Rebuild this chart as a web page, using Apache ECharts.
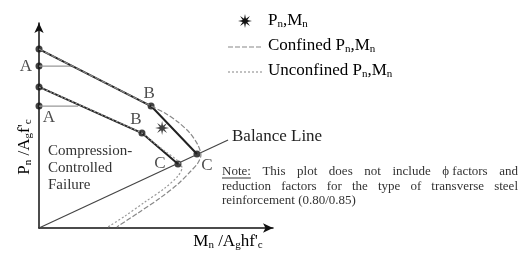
<!DOCTYPE html>
<html>
<head>
<meta charset="utf-8">
<script src="https://cdn.jsdelivr.net/npm/echarts@6/dist/echarts.min.js"></script>
<style>
  html, body { margin: 0; padding: 0; background: #fff; }
  #chart { width: 519px; height: 255px; }
</style>
</head>
<body>
<div id="chart"></div>
<script>
// P-M interaction sketch, normalised units: x = Mn/Ag h f'c, y = Pn/Ag f'c
const pointM = [0, 0, 0, 0, 0.479, 0.440, 0.675, 0.594];
const pointP = [0.873, 0.790, 0.688, 0.595, 0.595, 0.463, 0.361, 0.312];
const pointTag = ['', 'A', '', 'A', 'B', 'B', 'C', 'C'];

const upperM = [0, 0.479, 0.675];
const upperP = [0.873, 0.595, 0.361];
const lowerM = [0, 0.440, 0.594];
const lowerP = [0.688, 0.463, 0.312];

const capUpperM = [0, 0.141];
const capUpperP = [0.790, 0.790];
const capLowerM = [0, 0.167];
const capLowerP = [0.595, 0.595];

const balanceM = [0, 0.808];
const balanceP = [0, 0.429];

const starM = [0.526];
const starP = [0.488];

const confinedM = [0, 0.479, 0.538, 0.594, 0.645, 0.679, 0.692, 0.679, 0.645, 0.594, 0.517, 0.423, 0.333];
const confinedP = [0.873, 0.595, 0.561, 0.517, 0.463, 0.405, 0.356, 0.317, 0.273, 0.215, 0.146, 0.073, 0.005];
const unconfinedM = [0, 0.440, 0.483, 0.543, 0.594, 0.611, 0.594, 0.538, 0.453, 0.368, 0.295];
const unconfinedP = [0.688, 0.463, 0.424, 0.371, 0.327, 0.293, 0.254, 0.195, 0.127, 0.059, 0.005];

const serif = '"Liberation Serif", "DejaVu Serif", serif';
const pts = (m, p) => m.map((v, i) => [v, p[i]]);

// 8-point asterisk outline
function starPoints(r) {
  const out = [];
  for (let i = 0; i < 16; i++) {
    const a = i * Math.PI / 8 - Math.PI / 2;
    const rr = i % 2 ? r * 0.35 : r;
    out.push([rr * Math.cos(a), rr * Math.sin(a)]);
  }
  return out;
}
const starPath = 'path://' + starPoints(10).map((p, i) => (i ? 'L' : 'M') + p[0].toFixed(2) + ' ' + p[1].toFixed(2)).join('') + 'Z';

// label offsets for A/B/C tags (index matches point arrays)
const tagOffset = [[0, 0], [-13, 0], [0, 0], [10, 12], [-2, -12], [-6, -14], [10, 12], [-18, -1]];

const sub = { fontSize: 11, fontFamily: serif, color: '#222', verticalAlign: 'bottom' };
const big = { fontSize: 17, fontFamily: serif, color: '#222' };

const noteFont = '13px ' + serif;
const ctx = document.createElement('canvas').getContext('2d');
function justify(words, x0, x1, y) {
  ctx.font = noteFont;
  const w = words.map(s => ctx.measureText(s).width);
  const gap = (x1 - x0 - w.reduce((a, b) => a + b, 0)) / (words.length - 1);
  let x = x0;
  return words.map((s, i) => {
    const el = { type: 'text', x: x, y: y, style: { text: s, font: noteFont, fill: '#333', verticalAlign: 'middle' } };
    x += w[i] + gap;
    return el;
  });
}
ctx.font = noteFont;
const noteW = ctx.measureText('Note:').width;

const chart = echarts.init(document.getElementById('chart'));
chart.setOption({
  animation: false,
  grid: { left: 39, top: 23, width: 234, height: 205 },
  xAxis: {
    type: 'value', min: 0, max: 1,
    axisLine: { lineStyle: { color: '#111', width: 1.5 }, symbol: ['none', 'arrow'], symbolSize: [7, 10] },
    axisTick: { show: false }, axisLabel: { show: false }, splitLine: { show: false }
  },
  yAxis: {
    type: 'value', min: 0, max: 1,
    axisLine: { lineStyle: { color: '#111', width: 1.5 }, symbol: ['none', 'arrow'], symbolSize: [7, 10] },
    axisTick: { show: false }, axisLabel: { show: false }, splitLine: { show: false }
  },
  series: [
    { type: 'line', data: pts(capUpperM, capUpperP), symbol: 'none', lineStyle: { color: '#999', width: 1.2 } },
    { type: 'line', data: pts(capLowerM, capLowerP), symbol: 'none', lineStyle: { color: '#999', width: 1.2 } },
    { type: 'line', data: pts(balanceM, balanceP), symbol: 'none', lineStyle: { color: '#444', width: 1.2 } },
    { type: 'line', data: pts(upperM, upperP), symbol: 'none', lineStyle: { color: '#222', width: 2 } },
    { type: 'line', data: pts(lowerM, lowerP), symbol: 'none', lineStyle: { color: '#222', width: 2 } },
    { type: 'line', data: pts(confinedM, confinedP), symbol: 'none', smooth: 0.3,
      lineStyle: { color: '#888', width: 1.2, type: [5, 2] } },
    { type: 'line', data: pts(unconfinedM, unconfinedP), symbol: 'none', smooth: 0.3,
      lineStyle: { color: '#999', width: 1.2, type: [2, 2] } },
    {
      type: 'scatter', symbolSize: 7, itemStyle: { color: '#111' },
      data: pointM.map((m, i) => ({
        value: [m, pointP[i]],
        label: {
          show: pointTag[i] !== '', formatter: pointTag[i], position: 'inside', offset: tagOffset[i],
          color: '#222', fontSize: 17, fontFamily: serif
        }
      }))
    },
    { type: 'scatter', symbol: starPath, symbolSize: 14, itemStyle: { color: '#111' },
      data: pts(starM, starP) }
  ],
  graphic: [
    { type: 'polygon', x: 245, y: 21, shape: { points: starPoints(7) }, style: { fill: '#111' } },
    { type: 'line', shape: { x1: 228, y1: 47, x2: 262, y2: 47 }, style: { stroke: '#888', lineWidth: 1.2, lineDash: [5, 2] } },
    { type: 'line', shape: { x1: 228, y1: 72, x2: 262, y2: 72 }, style: { stroke: '#999', lineWidth: 1.2, lineDash: [2, 2] } },
    { type: 'text', x: 268, y: 21, style: { text: '{a|P}{s|n}{a|,M}{s|n}', rich: { a: big, s: sub }, verticalAlign: 'middle' } },
    { type: 'text', x: 268, y: 46, style: { text: '{a|Confined P}{s|n}{a|,M}{s|n}', rich: { a: big, s: sub }, verticalAlign: 'middle' } },
    { type: 'text', x: 268, y: 71, style: { text: '{a|Unconfined P}{s|n}{a|,M}{s|n}', rich: { a: big, s: sub }, verticalAlign: 'middle' } },
    { type: 'text', x: 232, y: 137, style: { text: 'Balance Line', font: '17px ' + serif, fill: '#222', verticalAlign: 'middle' } },
    { type: 'text', x: 48, y: 143, style: { text: 'Compression-\nControlled\nFailure', font: '15px ' + serif, fill: '#333', lineHeight: 17 } },
    { type: 'text', x: 25, y: 147, rotation: Math.PI / 2,
      style: { text: "{a|P}{s|n}{a| /A}{s|g}{a|f'}{s|c}", rich: { a: big, s: sub }, align: 'center', verticalAlign: 'middle' } },
    { type: 'text', x: 228, y: 242,
      style: { text: "{a|M}{s|n}{a| /A}{s|g}{a|hf'}{s|c}", rich: { a: big, s: sub }, align: 'center', verticalAlign: 'middle' } },
    ...justify(['Note:', 'This', 'plot', 'does', 'not', 'include', 'ϕ factors', 'and'], 222, 518, 172),
    ...justify(['reduction', 'factors', 'for', 'the', 'type', 'of', 'transverse', 'steel'], 222, 518, 187),
    { type: 'text', x: 222, y: 201, style: { text: 'reinforcement (0.80/0.85)', font: noteFont, fill: '#333', verticalAlign: 'middle' } },
    { type: 'line', shape: { x1: 222, y1: 178, x2: 222 + noteW, y2: 178 }, style: { stroke: '#333', lineWidth: 1 } }
  ]
});
</script>
</body>
</html>
